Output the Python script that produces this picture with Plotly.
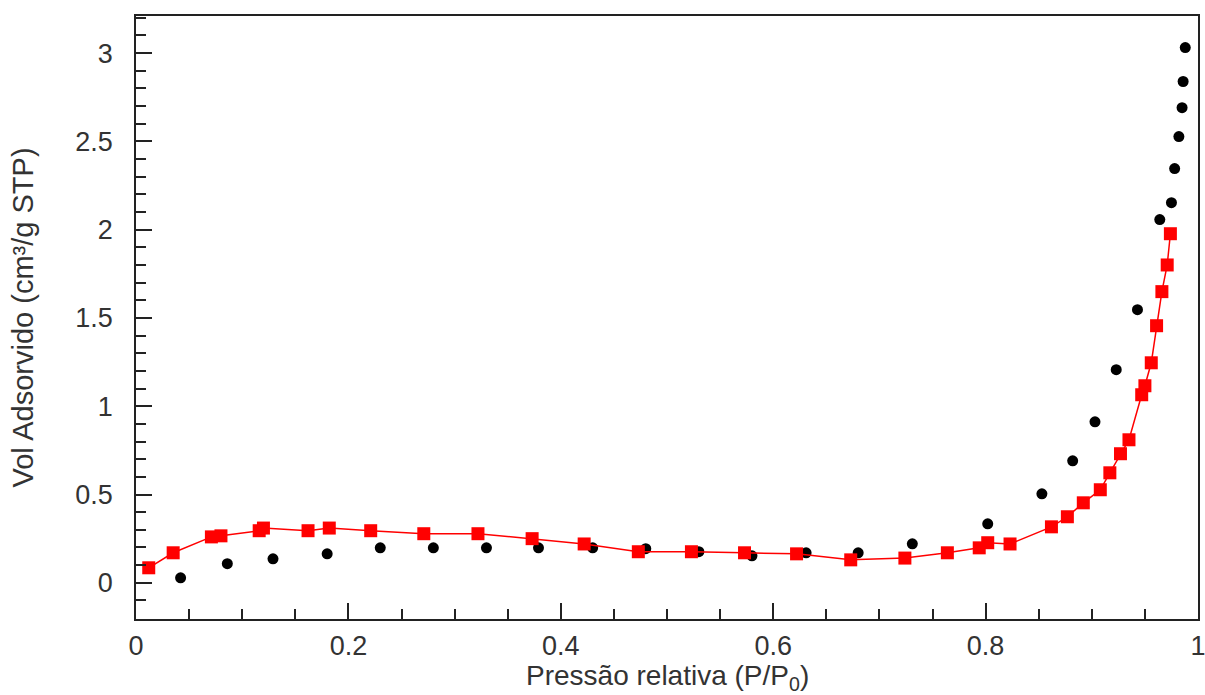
import plotly.graph_objects as go

# Adsorption (red squares, with line)
ads_x = [0.012, 0.035, 0.071, 0.080, 0.116, 0.120, 0.162, 0.182, 0.221, 0.271,
         0.322, 0.373, 0.422, 0.473, 0.523, 0.573, 0.622, 0.673, 0.724, 0.764,
         0.794, 0.802, 0.823, 0.862, 0.877, 0.892, 0.908, 0.917, 0.927, 0.935,
         0.947, 0.950, 0.956, 0.961, 0.966, 0.971, 0.974]
ads_y = [0.085, 0.170, 0.260, 0.266, 0.295, 0.310, 0.295, 0.310, 0.295, 0.278,
         0.278, 0.250, 0.220, 0.176, 0.176, 0.170, 0.164, 0.130, 0.140, 0.170,
         0.198, 0.227, 0.220, 0.317, 0.374, 0.453, 0.527, 0.623, 0.731, 0.810,
         1.065, 1.116, 1.246, 1.456, 1.649, 1.800, 1.977]

# Desorption (black circles)
des_x = [0.042, 0.086, 0.129, 0.180, 0.230, 0.280, 0.330, 0.379, 0.430, 0.480,
         0.530, 0.580, 0.631, 0.680, 0.731, 0.802, 0.853, 0.882, 0.903, 0.923,
         0.943, 0.964, 0.975, 0.978, 0.982, 0.985, 0.986, 0.988]
des_y = [0.028, 0.108, 0.136, 0.164, 0.198, 0.198, 0.198, 0.198, 0.198, 0.193,
         0.176, 0.153, 0.170, 0.170, 0.221, 0.334, 0.504, 0.691, 0.912, 1.207,
         1.547, 2.057, 2.153, 2.346, 2.527, 2.691, 2.839, 3.031]

x_ticks = [0, 0.2, 0.4, 0.6, 0.8, 1]
x_labels = ["0", "0.2", "0.4", "0.6", "0.8", "1"]
y_ticks = [0, 0.5, 1, 1.5, 2, 2.5, 3]
y_labels = ["0", "0.5", "1", "1.5", "2", "2.5", "3"]

x_title = "Pressão relativa (P/P<sub>0</sub>)"
y_title = "Vol Adsorvido (cm³/g STP)"

fig = go.Figure()
fig.add_trace(go.Scatter(x=des_x, y=des_y, mode="markers",
                         marker=dict(symbol="circle", size=11, color="black"),
                         showlegend=False))
fig.add_trace(go.Scatter(x=ads_x, y=ads_y, mode="lines+markers",
                         line=dict(color="#ff0000", width=1.5),
                         marker=dict(symbol="square", size=13, color="#ff0000"),
                         showlegend=False))

font_family = "Liberation Sans, Arial, sans-serif"
txt = "#333333"
axc = "#222222"
fig.update_layout(
    width=1205, height=695,
    margin=dict(l=136, r=7, t=16, b=76),
    paper_bgcolor="white", plot_bgcolor="white",
    font=dict(family=font_family, size=27, color=txt),
    xaxis=dict(
        range=[0, 1], tickmode="array", tickvals=x_ticks, ticktext=x_labels,
        ticks="inside", ticklen=16, tickwidth=1.5, tickcolor=axc,
        minor=dict(ticks="inside", dtick=0.05, ticklen=10, tickwidth=1.5, tickcolor=axc),
        showline=True, linecolor=axc, linewidth=1.5, mirror=True,
        showgrid=False, zeroline=False, automargin=False,
        ticklabelstandoff=2, ticklabeloverflow="allow",
        tickfont=dict(size=27, color=txt),
    ),
    yaxis=dict(
        range=[-0.205, 3.21], tickmode="array", tickvals=y_ticks, ticktext=y_labels,
        ticks="inside", ticklen=16, tickwidth=1.5, tickcolor=axc,
        minor=dict(ticks="inside", dtick=0.1, ticklen=10, tickwidth=1.5, tickcolor=axc),
        showline=True, linecolor=axc, linewidth=1.5, mirror=True,
        showgrid=False, zeroline=False, automargin=False,
        ticklabelstandoff=16, ticklabeloverflow="allow",
        tickfont=dict(size=27, color=txt),
    ),
    annotations=[
        dict(text=x_title, xref="paper", yref="paper", x=0.5, y=0,
             yshift=-58, yanchor="middle", xanchor="center", showarrow=False,
             font=dict(size=28, color=txt)),
        dict(text=y_title, xref="paper", yref="paper", x=0, y=0.5,
             xshift=-114, xanchor="center", yanchor="middle", textangle=-90,
             showarrow=False, font=dict(size=29, color=txt)),
    ],
)

fig.write_html("out.html", config={"displayModeBar": False},
               post_script="document.body.style.margin='0';")
